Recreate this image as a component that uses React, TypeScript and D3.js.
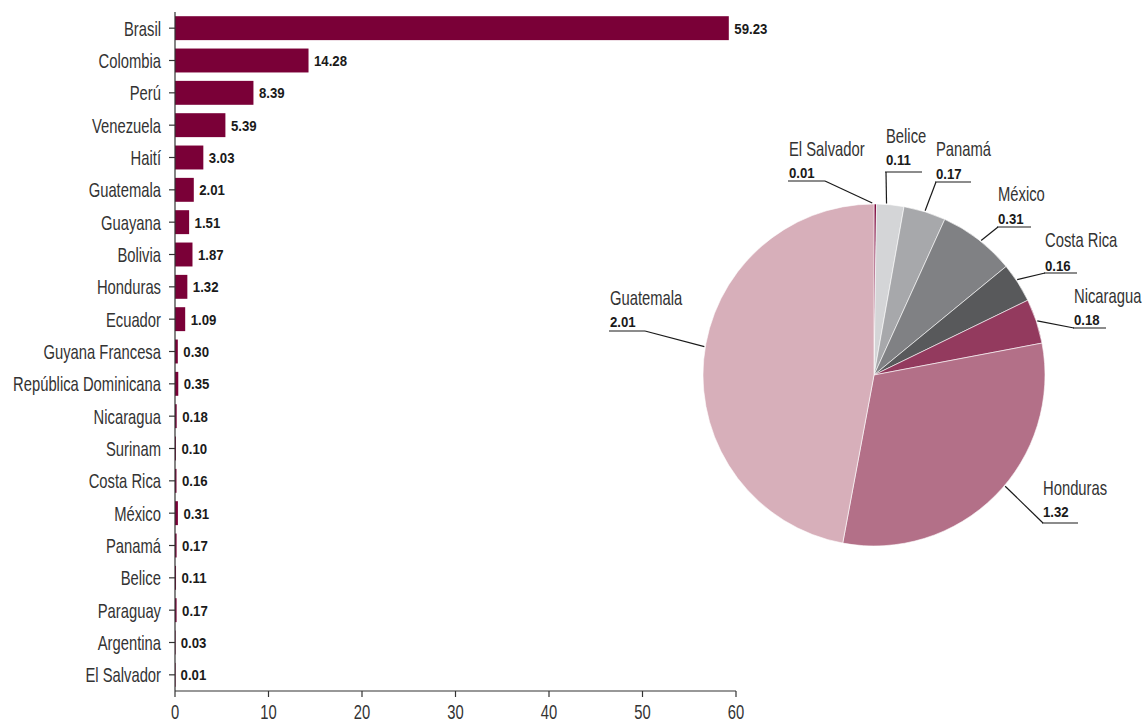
import React from "react";
import * as d3 from "d3";

const barCategories = [
  "Brasil", "Colombia", "Perú", "Venezuela", "Haití", "Guatemala", "Guayana", "Bolivia",
  "Honduras", "Ecuador", "Guyana Francesa", "República Dominicana", "Nicaragua", "Surinam",
  "Costa Rica", "México", "Panamá", "Belice", "Paraguay", "Argentina", "El Salvador",
];
const barValues = [
  59.23, 14.28, 8.39, 5.39, 3.03, 2.01, 1.51, 1.87, 1.32, 1.09, 0.3, 0.35, 0.18, 0.1,
  0.16, 0.31, 0.17, 0.11, 0.17, 0.03, 0.01,
];
const xTicks = [0, 10, 20, 30, 40, 50, 60];

const pieCategories = ["El Salvador", "Belice", "Panamá", "México", "Costa Rica", "Nicaragua", "Honduras", "Guatemala"];
const pieValues = [0.01, 0.11, 0.17, 0.31, 0.16, 0.18, 1.32, 2.01];
const pieColors = ["#7a0037", "#d4d5d7", "#a7a8ab", "#808184", "#58595b", "#933a5e", "#b37088", "#d7afba"];

// label layout: text x, name baseline, value baseline, underline y/width, leader side, anchor angle shift (deg)
const pieLabelLayout = [
  { x: 789, ny: 156, vy: 178, ly: 181, w: 36, side: "right", da: -1 },
  { x: 886, ny: 143, vy: 164.5, ly: 172, w: 36, side: "left", da: -1.3 },
  { x: 936, ny: 156, vy: 179, ly: 182, w: 35, side: "left", da: 0 },
  { x: 998, ny: 201, vy: 224, ly: 227, w: 33, side: "left", da: 1 },
  { x: 1045, ny: 247, vy: 270.5, ly: 273, w: 32, side: "left", da: -1 },
  { x: 1074, ny: 303, vy: 325, ly: 328, w: 32, side: "left", da: 0 },
  { x: 1043, ny: 495, vy: 517, ly: 523, w: 35, side: "left", da: -4.6 },
  { x: 610, ny: 305, vy: 326.5, ly: 331, w: 35, side: "right", da: 4.2 },
];

const FONT = "'Liberation Sans', Arial, sans-serif";
const BAR_COLOR = "#7a0037";
const SX = 0.74;
const SXB = 0.88;

function T(props: {
  x: number; y: number; sx?: number; anchor?: string; size?: number; bold?: boolean; fill?: string; children: any;
}) {
  const { x, y, sx = SX, anchor = "start", size = 20, bold = false, fill = "#333", children } = props;
  return (
    <text
      transform={`translate(${x},${y}) scale(${sx},1)`}
      textAnchor={anchor}
      fontSize={size}
      fontWeight={bold ? "bold" : "normal"}
      fill={fill}
    >
      {children}
    </text>
  );
}

export default function App() {
  const W = 1144, H = 720;
  const x = d3.scaleLinear().domain([0, 60]).range([175, 736]);
  const y = d3.scaleBand<string>().domain(barCategories).range([12, 691]).paddingInner(0.26).paddingOuter(0.13);

  const cx = 874, cy = 375, r = 171;
  const pie = d3.pie<number>().sort(null).value((d) => d)(pieValues);
  const arc = d3.arc<d3.PieArcDatum<number>>().innerRadius(0).outerRadius(r);

  return (
    <svg width={W} height={H} style={{ position: "absolute", left: 0, top: 0, background: "#fff" }} fontFamily={FONT}>
      {/* bars */}
      {barCategories.map((c, i) => {
        const cy0 = y(c)! + y.bandwidth() / 2;
        return (
          <g key={c}>
            <rect x={x(0)} y={y(c)!} width={Math.max(0.6, x(barValues[i]) - x(0))} height={y.bandwidth()} fill={BAR_COLOR} />
            <T x={x(barValues[i]) + 5.5} y={cy0 + 5.5} size={15} bold sx={SXB} fill="#1a1a1a">
              {barValues[i].toFixed(2)}
            </T>
            <line x1={x(0) - 6} x2={x(0)} y1={cy0} y2={cy0} stroke="#333" strokeWidth={1.2} />
            <T x={x(0) - 14} y={cy0 + 7.5} anchor="end">
              {c}
            </T>
          </g>
        );
      })}
      {/* y axis line */}
      <line x1={x(0)} x2={x(0)} y1={12} y2={691} stroke="#333" strokeWidth={1.2} />
      {/* x axis */}
      <line x1={x(0)} x2={x(60)} y1={691} y2={691} stroke="#333" strokeWidth={1.2} />
      {xTicks.map((t) => (
        <g key={t}>
          <line x1={x(t)} x2={x(t)} y1={691} y2={697} stroke="#333" strokeWidth={1.2} />
          <T x={x(t)} y={719} anchor="middle">
            {t}
          </T>
        </g>
      ))}

      {/* pie */}
      <g transform={`translate(${cx},${cy})`}>
        {pie.map((p, i) => (
          <path key={i} d={arc(p)!} fill={pieColors[i]} stroke="#fff" strokeWidth={0.6} />
        ))}
      </g>
      {pie.map((p, i) => {
        const L = pieLabelLayout[i];
        const mid = (p.startAngle + p.endAngle) / 2 + (L.da * Math.PI) / 180;
        const ax = cx + (r + 1) * Math.sin(mid);
        const ay = cy - (r + 1) * Math.cos(mid);
        const ex = L.side === "left" ? L.x : L.x + L.w;
        return (
          <g key={"l" + i}>
            <T x={L.x} y={L.ny}>
              {pieCategories[i]}
            </T>
            <T x={L.x} y={L.vy} size={15} bold sx={SXB} fill="#1a1a1a">
              {pieValues[i].toFixed(2)}
            </T>
            <line x1={L.x - 1} x2={L.x + L.w} y1={L.ly} y2={L.ly} stroke="#1a1a1a" strokeWidth={1.2} />
            <line x1={ex} y1={L.ly} x2={ax} y2={ay} stroke="#1a1a1a" strokeWidth={1.2} />
          </g>
        );
      })}
    </svg>
  );
}
